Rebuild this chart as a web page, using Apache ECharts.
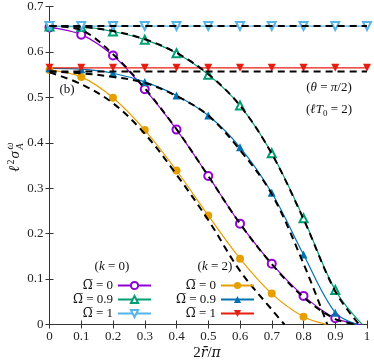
<!DOCTYPE html>
<html><head><meta charset="utf-8">
<script src="https://cdn.jsdelivr.net/npm/echarts@6/dist/echarts.min.js"></script>
<style>html,body{margin:0;padding:0;background:#fff}#c{width:374px;height:362px}</style>
</head><body><div id="c"></div>
<script>
// ---- data ----
const xTickValues = [0, 0.1, 0.2, 0.3, 0.4, 0.5, 0.6, 0.7, 0.8, 0.9, 1];
const yTickValues = [0, 0.1, 0.2, 0.3, 0.4, 0.5, 0.6, 0.7];

// k = 0
const k0w0X  = [0, 0.1, 0.2, 0.3, 0.4, 0.5, 0.6, 0.7, 0.8, 0.9, 0.98];
const k0w0Y  = [0.654, 0.638, 0.592, 0.518, 0.429, 0.327, 0.222, 0.134, 0.063, 0.014, 0];
const k0w09X = [0, 0.1, 0.2, 0.3, 0.4, 0.5, 0.6, 0.7, 0.8, 0.9, 0.985];
const k0w09Y = [0.656, 0.655, 0.645, 0.627, 0.597, 0.550, 0.482, 0.377, 0.234, 0.076, 0];
const k0w1X  = [0, 0.1, 0.2, 0.3, 0.4, 0.5, 0.6, 0.7, 0.8, 0.9, 1];
const k0w1Y  = [0.657, 0.657, 0.657, 0.657, 0.657, 0.657, 0.657, 0.657, 0.657, 0.657, 0.657];
// k = 2
const k2w0X  = [0, 0.1, 0.2, 0.3, 0.4, 0.5, 0.6, 0.7, 0.8, 0.875];
const k2w0Y  = [0.560, 0.545, 0.499, 0.428, 0.339, 0.240, 0.145, 0.068, 0.017, 0];
const k2w09X = [0, 0.1, 0.2, 0.3, 0.4, 0.5, 0.6, 0.7, 0.8, 0.9, 0.97];
const k2w09Y = [0.564, 0.562, 0.553, 0.534, 0.504, 0.460, 0.390, 0.290, 0.154, 0.026, 0];
const k2w1X  = [0, 0.1, 0.2, 0.3, 0.4, 0.5, 0.6, 0.7, 0.8, 0.9, 1];
const k2w1Y  = [0.565, 0.565, 0.565, 0.565, 0.565, 0.565, 0.565, 0.565, 0.565, 0.565, 0.565];
// number of points that carry a marker in each series
const k0w0Marks = 10, k0w09Marks = 10, k0w1Marks = 11, k2w0Marks = 9, k2w09Marks = 10, k2w1Marks = 11;

// dashed approximations
const d1X = [0, 1];                  const d1Y = [0.657, 0.657];
const d2X = [0, 1];                  const d2Y = [0.557, 0.557];
const d3X = [0, 0.1, 0.2, 0.3, 0.4, 0.5, 0.6, 0.7, 0.8, 0.9, 0.97];
const d3Y = [0.657, 0.648, 0.595, 0.520, 0.430, 0.327, 0.222, 0.133, 0.060, 0.012, 0];
const d4X = [0, 0.1, 0.2, 0.3, 0.4, 0.5, 0.6, 0.7, 0.8, 0.9, 0.975];
const d4Y = [0.657, 0.655, 0.646, 0.628, 0.598, 0.551, 0.482, 0.376, 0.232, 0.073, 0];
const d5X = [0, 0.1, 0.2, 0.3, 0.4, 0.5, 0.6, 0.7, 0.74];
const d5Y = [0.555, 0.529, 0.487, 0.420, 0.330, 0.230, 0.118, 0.033, 0];
const d6X = [0, 0.1, 0.2, 0.3, 0.4, 0.5, 0.6, 0.7, 0.8, 0.875];
const d6Y = [0.557, 0.553, 0.545, 0.532, 0.503, 0.460, 0.384, 0.287, 0.134, 0];

// ---- chart ----
const FONT = "'Liberation Serif','DejaVu Serif',serif";
const chart = echarts.init(document.getElementById('c'), null, {renderer: 'canvas'});

function pts(xs, ys, nMarks) {
  return xs.map((x, i) => i < nMarks ? [x, ys[i]] : {value: [x, ys[i]], symbol: 'none'});
}
function solid(name, xs, ys, nMarks, color, symbol, rotate, empty) {
  return {
    name, type: 'line', data: pts(xs, ys, nMarks),
    smooth: 0.35,
    symbol, symbolSize: 8, symbolRotate: rotate,
    lineStyle: {color, width: 1.2},
    itemStyle: empty ? {color, borderWidth: 1.1} : {color},
    z: 2, animation: false
  };
}
function dashed(xs, ys) {
  return {
    type: 'line', data: xs.map((x, i) => [x, ys[i]]),
    smooth: 0.35, symbol: 'none', silent: true,
    lineStyle: {color: '#000', width: 2, type: [7, 5]},
    z: 3, animation: false
  };
}
const labelsMap = {
  k0w0: '{o|Ω̅} = 0', k0w09: '{o|Ω̅} = 0.9', k0w1: '{o|Ω̅} = 1',
  k2w0: '{o|Ω̅} = 0', k2w09: '{o|Ω̅} = 0.9', k2w1: '{o|Ω̅} = 1'
};
const fmt = v => (v === 0 ? '0' : v === 1 ? '1' : v.toFixed(1));
const axisLineStyle = {lineStyle: {color: '#333', width: 1}};
const legendBase = {
  orient: 'vertical', align: 'right', itemWidth: 33, itemHeight: 9, itemGap: 1, padding: 0,
  formatter: n => labelsMap[n],
  textStyle: {fontFamily: FONT, fontSize: 13, color: '#111', lineHeight: 12,
    rich: {o: {fontFamily: "'DejaVu Serif'", fontSize: 12, color: '#111', lineHeight: 12}}}
};
const it = {fontFamily: FONT, fontStyle: 'italic', fontSize: 13, color: '#111'};

chart.setOption({
  animation: false,
  grid: {left: 49.5, right: 7, top: 5.5, bottom: 37.5},
  xAxis: [
    {type: 'value', min: 0, max: 1, interval: 0.1, axisLine: axisLineStyle,
     axisTick: {inside: true, length: 4, lineStyle: {color: '#333'}}, splitLine: {show: false},
     axisLabel: {formatter: fmt, fontFamily: FONT, fontSize: 13, color: '#222', margin: 6}},
    {type: 'value', position: 'top', min: 0, max: 1, interval: 0.1, axisLine: axisLineStyle,
     axisTick: {inside: true, length: 4, lineStyle: {color: '#333'}}, splitLine: {show: false},
     axisLabel: {show: false}}
  ],
  yAxis: [
    {type: 'value', min: 0, max: 0.7, interval: 0.1, axisLine: axisLineStyle,
     axisTick: {inside: true, length: 4, lineStyle: {color: '#333'}}, splitLine: {show: false},
     axisLabel: {formatter: fmt, fontFamily: FONT, fontSize: 13, color: '#222', margin: 6}},
    {type: 'value', position: 'right', min: 0, max: 0.7, interval: 0.1, axisLine: axisLineStyle,
     axisTick: {inside: true, length: 4, lineStyle: {color: '#333'}}, splitLine: {show: false},
     axisLabel: {show: false}}
  ],
  legend: [
    Object.assign({}, legendBase, {data: ['k0w0', 'k0w09', 'k0w1'], right: 222, top: 279}),
    Object.assign({}, legendBase, {data: ['k2w0', 'k2w09', 'k2w1'], right: 119, top: 279})
  ],
  series: [
    solid('k0w0', k0w0X, k0w0Y, k0w0Marks, '#9400d3', 'emptyCircle', 0, true),
    solid('k0w09', k0w09X, k0w09Y, k0w09Marks, '#009e73', 'emptyTriangle', 0, true),
    solid('k0w1', k0w1X, k0w1Y, k0w1Marks, '#56b4e9', 'emptyTriangle', 180, true),
    solid('k2w0', k2w0X, k2w0Y, k2w0Marks, '#e69f00', 'circle', 0, false),
    solid('k2w09', k2w09X, k2w09Y, k2w09Marks, '#0072b2', 'triangle', 0, false),
    solid('k2w1', k2w1X, k2w1Y, k2w1Marks, '#e51e10', 'triangle', 180, false),
    dashed(d1X, d1Y), dashed(d2X, d2Y), dashed(d3X, d3Y),
    dashed(d4X, d4Y), dashed(d5X, d5Y), dashed(d6X, d6Y)
  ],
  graphic: [
    {type: 'text', x: 112, y: 267, style: {text: '({i|k} = 0)', align: 'center', verticalAlign: 'middle',
      fontFamily: FONT, fontSize: 13, fill: '#111', rich: {i: it}}},
    {type: 'text', x: 215, y: 267, style: {text: '({i|k} = 2)', align: 'center', verticalAlign: 'middle',
      fontFamily: FONT, fontSize: 13, fill: '#111', rich: {i: it}}},
    {type: 'text', x: 67, y: 90, style: {text: '(b)', align: 'center', verticalAlign: 'middle',
      fontFamily: FONT, fontSize: 13, fill: '#111'}},
    {type: 'text', x: 329, y: 88, style: {text: '({i|θ} = {i|π}/2)', align: 'center', verticalAlign: 'middle',
      fontFamily: FONT, fontSize: 13, fill: '#111', rich: {i: it}}},
    {type: 'text', x: 329, y: 110, style: {text: '({i|ℓT}{s|0} = 2)', align: 'center', verticalAlign: 'middle',
      fontFamily: FONT, fontSize: 13, fill: '#111', lineHeight: 16,
      rich: {i: Object.assign({lineHeight: 16}, it),
             s: {fontFamily: FONT, fontSize: 9, lineHeight: 10, verticalAlign: 'bottom', color: '#111'}}}},
    {type: 'text', x: 207, y: 353, style: {text: '2{i|r̄}/{i|π}', align: 'center', verticalAlign: 'middle',
      fontFamily: FONT, fontSize: 15, fill: '#111',
      rich: {i: {fontFamily: "'DejaVu Serif'", fontStyle: 'italic', fontSize: 14, color: '#111'}}}},
    {type: 'group', x: 15, y: 172, rotation: Math.PI / 2, children: [
      {type: 'text', x: 0, y: 0, style: {text: 'ℓ', font: 'italic 15px ' + FONT, fill: '#111', verticalAlign: 'middle'}},
      {type: 'text', x: 7.5, y: -4, style: {text: '2', font: '10px ' + FONT, fill: '#111', verticalAlign: 'middle'}},
      {type: 'text', x: 13.5, y: 0, style: {text: 'σ', font: 'italic 15px ' + FONT, fill: '#111', verticalAlign: 'middle'}},
      {type: 'text', x: 22.5, y: -5, style: {text: 'ω', font: 'italic 10px ' + FONT, fill: '#111', verticalAlign: 'middle'}},
      {type: 'text', x: 22.5, y: 5, style: {text: 'A', font: 'italic 10px ' + FONT, fill: '#111', verticalAlign: 'middle'}}
    ]}
  ]
});
</script></body></html>
